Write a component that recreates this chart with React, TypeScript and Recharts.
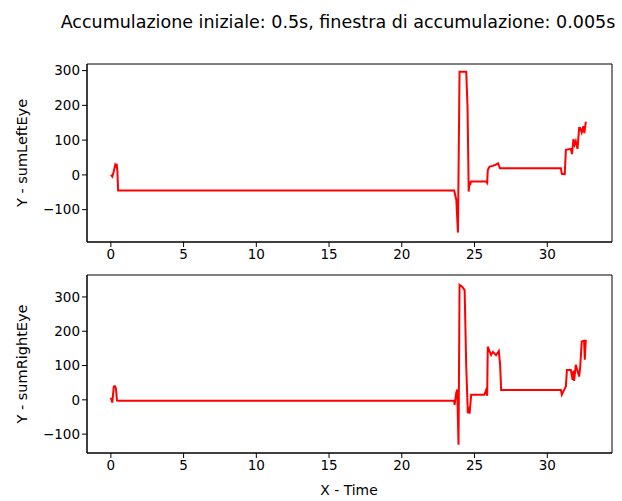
import { LineChart, Line, XAxis, YAxis, ReferenceArea } from 'recharts';

const xTicks = [0, 5, 10, 15, 20, 25, 30];
const yTicks = [-100, 0, 100, 200, 300];
const xDomain: [number, number] = [-1.64, 34.45];

const leftTime = [
    0, 0.1, 0.2, 0.3, 0.35, 0.4, 0.45, 0.5, 23.6, 23.75, 23.86, 23.97, 24.43,
    24.52, 24.6, 24.65, 24.7, 24.75, 25.8, 25.87, 25.91, 26.03, 26.26, 26.48,
    26.62, 26.75, 30.94, 31.0, 31.2, 31.28, 31.62, 31.7, 31.8, 31.88, 31.96,
    32.08, 32.19, 32.26, 32.37, 32.48, 32.55, 32.65,
];
const leftValues = [
    0, -5, 10, 29, 25, 32, 10, -45, -45, -72, -166, 297, 297,
    193, -48, -19, -30, -19, -19, -23, 14, 24, 26, 30,
    33, 19, 19, 3, 2, 72, 75, 60, 103, 87, 97,
    75, 135, 135, 122, 140, 120, 153,
];

const rightTime = [
    0, 0.1, 0.2, 0.28, 0.35, 0.42, 0.5, 23.6, 23.63, 23.74, 23.81, 23.9, 23.97,
    24.15, 24.32, 24.43, 24.54, 24.6, 24.66, 24.77, 25.68, 25.8, 25.87, 25.91,
    26.03, 26.14, 26.26, 26.48, 26.67, 26.76, 26.83, 30.94, 31.0, 31.16, 31.28,
    31.35, 31.62, 31.74, 31.8, 31.85, 31.96, 32.08, 32.19, 32.26, 32.37, 32.53,
    32.58, 32.65,
];
const rightValues = [
    6, -8, 39, 40, 33, -2, -3, -3, -15, 20, 30, -131, 335,
    330, 320, 97, -39, -30, -40, 15, 15, 29, 12, 155,
    142, 131, 140, 130, 142, 102, 29, 29, 15, 29, 39,
    87, 87, 58, 85, 55, 102, 85, 68, 93, 170, 172,
    117, 175,
];

const leftData = leftTime.map((t, i) => ({ t, v: leftValues[i] }));
const rightData = rightTime.map((t, i) => ({ t, v: rightValues[i] }));

const font = 'DejaVu Sans, sans-serif';
const tickStyle = { fontSize: 13.5, fill: '#000', fontFamily: font };
const axisLine = { stroke: '#000', strokeWidth: 1 };
// matplotlib draws negatives with a real minus sign
const fmt = (v: number) => String(v).replace('-', '\u2212');

type PanelProps = {
    data: { t: number; v: number }[];
    domain: [number, number];
    top: number;
};

const Panel = ({ data, domain, top }: PanelProps) => (
    <LineChart
        width={622}
        height={top + 178 + 30}
        data={data}
        margin={{ top, right: 10, left: 0, bottom: 0 }}
    >
        <XAxis
            dataKey="t"
            type="number"
            domain={xDomain}
            ticks={xTicks}
            allowDataOverflow
            axisLine={axisLine}
            tickLine={{ stroke: '#000' }}
            tickSize={5}
            height={30}
            tick={tickStyle}
            interval={0}
        />
        <YAxis
            type="number"
            domain={domain}
            ticks={yTicks}
            tickFormatter={fmt}
            allowDataOverflow
            axisLine={axisLine}
            tickLine={{ stroke: '#000' }}
            tickSize={5}
            width={87}
            tick={tickStyle}
            interval={0}
        />
        <ReferenceArea
            x1={xDomain[0]}
            x2={xDomain[1]}
            y1={domain[0]}
            y2={domain[1]}
            fill="none"
            fillOpacity={0}
            stroke="#000"
            strokeWidth={1}
            ifOverflow="visible"
        />
        <Line
            type="linear"
            dataKey="v"
            stroke="#ff0000"
            strokeWidth={2}
            dot={false}
            isAnimationActive={false}
        />
    </LineChart>
);

const App = () => {
    return (
        <div
            style={{
                position: 'absolute',
                left: 0,
                top: 0,
                width: 622,
                height: 501,
                background: '#fff',
                fontFamily: font,
            }}
        >
            <div
                style={{
                    position: 'absolute',
                    left: 338,
                    top: 22,
                    transform: 'translate(-50%, -50%)',
                    whiteSpace: 'nowrap',
                    fontSize: 17.5,
                }}
            >
                Accumulazione iniziale: 0.5s, finestra di accumulazione: 0.005s
            </div>
            <div style={{ position: 'absolute', left: 0, top: 0 }}>
                <Panel data={leftData} domain={[-193, 319]} top={64} />
            </div>
            <div style={{ position: 'absolute', left: 0, top: 233 }}>
                <Panel data={rightData} domain={[-155, 364]} top={42} />
            </div>
            <div
                style={{
                    position: 'absolute',
                    left: 22,
                    top: 153,
                    transform: 'translate(-50%, -50%) rotate(-90deg)',
                    whiteSpace: 'nowrap',
                    fontSize: 14.5,
                }}
            >
                Y - sumLeftEye
            </div>
            <div
                style={{
                    position: 'absolute',
                    left: 22,
                    top: 364,
                    transform: 'translate(-50%, -50%) rotate(-90deg)',
                    whiteSpace: 'nowrap',
                    fontSize: 14.5,
                }}
            >
                Y - sumRightEye
            </div>
            <div
                style={{
                    position: 'absolute',
                    left: 349,
                    top: 490,
                    transform: 'translate(-50%, -50%)',
                    whiteSpace: 'nowrap',
                    fontSize: 13.9,
                }}
            >
                X - Time
            </div>
        </div>
    );
};

export default App;
